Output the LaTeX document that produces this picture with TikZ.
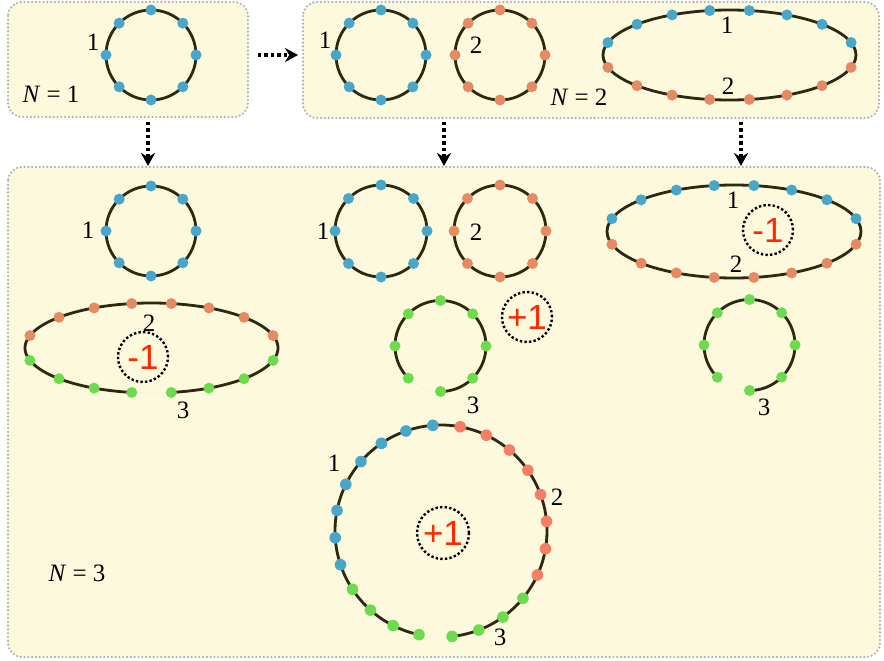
\documentclass[tikz,border=0pt]{standalone}
\usepackage{fontspec}
\setmainfont{Liberation Serif}
\newfontfamily\signfont{Liberation Sans}
\usetikzlibrary{arrows.meta}

\definecolor{panelfill}{RGB}{253,249,221}
\definecolor{panelrule}{RGB}{175,175,175}
\definecolor{ringcol}{RGB}{45,40,20}
\definecolor{beadblue}{RGB}{72,166,198}
\definecolor{beadorange}{RGB}{230,138,100}
\definecolor{beadsalmon}{RGB}{247,126,102}
\definecolor{beadgreen}{RGB}{110,218,78}
\definecolor{signred}{RGB}{255,40,0}
\definecolor{gapcol}{RGB}{245,244,232}

\tikzset{
  panel/.style={fill=panelfill, draw=panelrule, line width=2.4pt, line cap=round,
    dash pattern=on 0pt off 3.8pt, rounded corners=14pt},
  ring/.style={draw=ringcol, line width=2.8pt},
  gapline/.style={draw=gapcol, line width=1.2pt},
  flow/.style={line width=3.4pt, dash pattern=on 3.4pt off 3pt,
    -{Stealth[length=13pt,width=14pt]}},
  chargering/.style={draw=black, line width=2.4pt, dash pattern=on 2.4pt off 2.2pt},
  lbl/.style={font=\fontsize{25}{25}\selectfont, inner sep=0pt},
  sign/.style={font=\signfont\fontsize{35}{35}\selectfont, text=signred, inner sep=0pt},
}

% 8 beads on a closed circle
\newcommand\beadring[4]{% cx, cy, r, colour
  \draw[ring] (#1,#2) circle (#3pt);
  \foreach \a in {0,45,...,315}
    \fill[#4] ({#1+#3*cos(\a)},{#2-#3*sin(\a)}) circle (5.5pt);
}
% 8 beads on a circle opened between 225 and 270 degrees
\newcommand\openring[3]{% cx, cy, r
  \draw[gapline] plot[domain=225:270, samples=20] ({#1+#3*cos(\x)},{#2-#3*sin(\x)});
  \draw[ring] plot[domain=-90:225, samples=90] ({#1+#3*cos(\x)},{#2-#3*sin(\x)});
  \foreach \a in {0,45,...,315}
    \fill[beadgreen] ({#1+#3*cos(\a)},{#2-#3*sin(\a)}) circle (5.5pt);
}

\begin{document}
\begin{tikzpicture}[x=1pt, y=-1pt]
\useasboundingbox (0,0) rectangle (884,661);

% panels
\draw[panel] (8,2) rectangle (248,117);
\draw[panel] (303,2) rectangle (879,118);
\draw[panel] (8,167) rectangle (880,657);

% arrows between panels
\coordinate (h1) at (258,55);  \coordinate (h2) at (298,55);
\coordinate (v1a) at (148,122); \coordinate (v1b) at (148,166);
\coordinate (v2a) at (444,122); \coordinate (v2b) at (444,166);
\coordinate (v3a) at (741,122); \coordinate (v3b) at (741,166);
\draw[flow] (h1) -- (h2);
\draw[flow] (v1a) -- (v1b);
\draw[flow] (v2a) -- (v2b);
\draw[flow] (v3a) -- (v3b);

% ---- N = 1
\beadring{151}{55}{45}{beadblue}
\node[lbl] (t1) at (93,42) {1};
\node[lbl] (n1) at (51,94) {\textit{N} = 1};

% ---- N = 2
\beadring{381}{55}{45}{beadblue}
\node[lbl] (t21) at (325,40) {1};
\beadring{500}{55}{45}{beadorange}
\node[lbl] (t22) at (476,45) {2};
\node[lbl] (n2) at (579,97) {\textit{N} = 2};
\draw[ring] (729.5,55) ellipse (126.5pt and 45pt);
\foreach \a in {164,137,117,99,81,63,43,16}{
  \fill[beadblue] ({729.5+126.5*cos(\a)},{55-45*sin(\a)}) circle (5.5pt);
  \fill[beadorange] ({729.5+126.5*cos(\a)},{55+45*sin(\a)}) circle (5.5pt);
}
\node[lbl] (t2e1) at (727,25) {1};
\node[lbl] (t2e2) at (728,86) {2};

% ---- N = 3, left column
\beadring{151}{231}{45}{beadblue}
\node[lbl] (l1) at (88,230) {1};
\draw[gapline] plot[domain=261:279, samples=20] ({151.5+126.5*cos(\x)},{348-45*sin(\x)});
\draw[ring] plot[domain=-81:261, samples=150] ({151.5+126.5*cos(\x)},{348-45*sin(\x)});
\foreach \a in {164,137,117,99,81,63,43,16}{
  \fill[beadorange] ({151.5+126.5*cos(\a)},{348-45*sin(\a)}) circle (5.5pt);
  \fill[beadgreen] ({151.5+126.5*cos(\a)},{348+45*sin(\a)}) circle (5.5pt);
}
\node[lbl] (l2) at (149,323) {2};
\node[lbl] (l3) at (183,410) {3};
\draw[chargering] (143,357) circle (25pt);
\node[sign] (lq) at (143,357) {-1};

% ---- N = 3, middle column
\beadring{381}{231}{46}{beadblue}
\node[lbl] (m1) at (323,231) {1};
\beadring{500}{231}{46}{beadorange}
\node[lbl] (m2) at (476,232) {2};
\openring{440.5}{346}{45.5}
\node[lbl] (m3) at (473,405) {3};
\draw[chargering] (527,317) circle (25pt);
\node[sign] (mq) at (527,317) {+1};

% ---- N = 3, right column
\draw[ring] (734,231.5) ellipse (127pt and 46.5pt);
\foreach \a in {164,137,117,99,81,63,43,16}{
  \fill[beadblue] ({734+127*cos(\a)},{231.5-46.5*sin(\a)}) circle (5.5pt);
  \fill[beadorange] ({734+127*cos(\a)},{231.5+46.5*sin(\a)}) circle (5.5pt);
}
\node[lbl] (r1) at (733,200) {1};
\node[lbl] (r2) at (736,264) {2};
\draw[chargering] (768,230) circle (25pt);
\node[sign] (rq) at (768,230) {-1};
\openring{749.5}{345}{45.5}
\node[lbl] (r3) at (764,407) {3};

% ---- N = 3, merged ring
\draw[ring] plot[domain=-84:258, samples=200] ({441+106*cos(\x)},{531-106*sin(\x)});
\foreach \k in {0,...,23}{
  \pgfmathsetmacro\ang{-84+14.87*\k}
  \ifnum\k<4 \def\bc{beadgreen}\else
  \ifnum\k<12 \def\bc{beadsalmon}\else
  \ifnum\k<20 \def\bc{beadblue}\else \def\bc{beadgreen}\fi\fi\fi
  \fill[\bc] ({441+106*cos(\ang)},{531-106*sin(\ang)}) circle (5.8pt);
}
\node[lbl] (b1) at (334,463) {1};
\node[lbl] (b2) at (557,497) {2};
\node[lbl] (b3) at (500,637) {3};
\draw[chargering] (443,533) circle (26pt);
\node[sign] (bq) at (443,533) {+1};

\node[lbl] (n3) at (77,573) {\textit{N} = 3};
\end{tikzpicture}
\end{document}
